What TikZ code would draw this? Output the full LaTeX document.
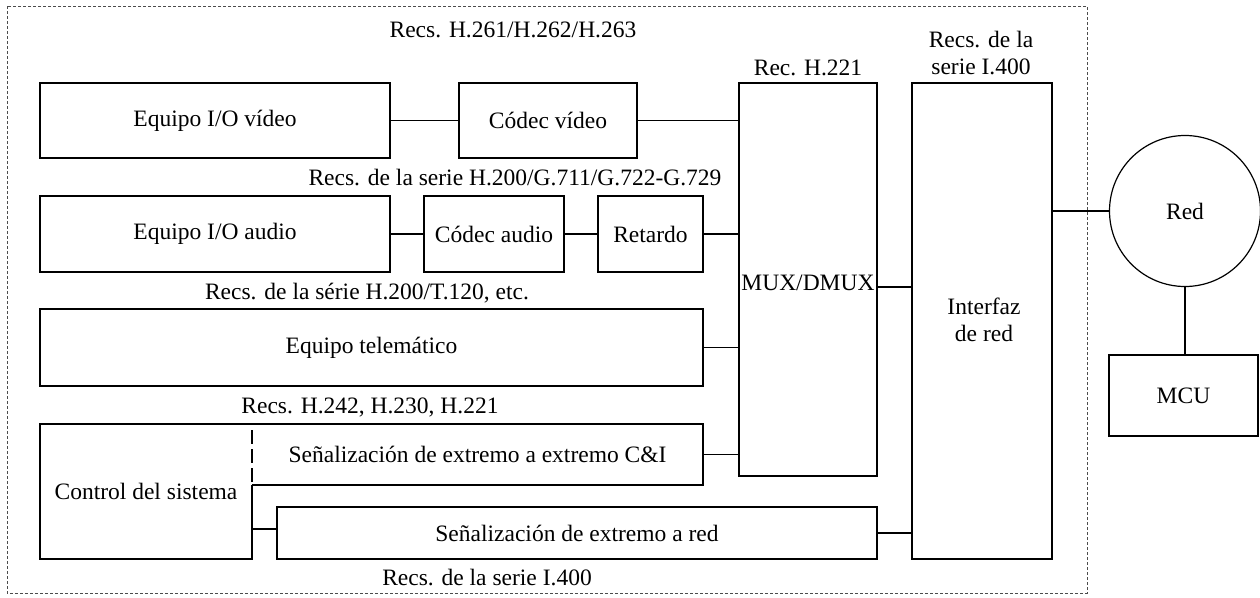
\documentclass[tikz,border=0pt]{standalone}
\usepackage{fontspec}
\setmainfont{Liberation Serif}
\begin{document}
\begin{tikzpicture}[x=1pt,y=-1pt,
  every node/.style={font=\fontsize{23.5}{27}\selectfont, inner sep=0pt, outer sep=0pt},
  box/.style={draw, line width=1.2pt, rectangle},
  conn/.style={line width=1.2pt},
  lbl/.style={align=center}]
\useasboundingbox (0,0) rectangle (1260,597);
% outer dashed frame
\draw[line width=1pt, black!70, dash pattern=on 3pt off 2pt] (7,6) rectangle (1087,593);

% boxes
\node[box, minimum width=350pt, minimum height=75pt] (vid) at (215,120.5) {Equipo I/O vídeo};
\node[box, minimum width=178pt, minimum height=75pt] (cvid) at (548,120.5) {Códec vídeo};
\node[box, minimum width=350pt, minimum height=76pt] (aud) at (215,234) {Equipo I/O audio};
\node[box, minimum width=140pt, minimum height=76pt] (caud) at (494,234) {Códec audio};
\node[box, minimum width=105pt, minimum height=76pt] (ret) at (650.5,234) {Retardo};
\node[box, minimum width=663pt, minimum height=77pt] (tel) at (371.5,347.5) {Equipo telemático};
\node[box, minimum width=138pt, minimum height=393pt] (mux) at (808,279.5) {};
\node at (808,283) {MUX/DMUX};
\node[box, minimum width=140pt, minimum height=476pt] (ifz) at (982,321) {};
\node[lbl] at (984,320) {Interfaz\\de red};
\node[box, circle, minimum size=151pt] (red) at (1185,211) {Red};
\node[box, minimum width=149pt, minimum height=81pt] (mcu) at (1183.5,395.5) {MCU};
\node[box, minimum width=600pt, minimum height=52pt] (endred) at (577,533) {Señalización de extremo a red};

% C&I box (left side dashed) and control del sistema
\node[minimum width=451pt, minimum height=61pt] (ci) at (477.5,454.5) {Señalización de extremo a extremo C\&I};
\node[minimum width=212pt, minimum height=135pt] (ctrl) at (146,491.5) {Control del sistema};
\coordinate (cc) at (252,485);
\draw[line width=1.2pt] (ci.south west) -- (ci.south east) -- (ci.north east) -- (ctrl.north west) -- (ctrl.south west) -- (ctrl.south east) -- (cc);
\draw[line width=1.2pt, dash pattern=on 14pt off 5pt, dash phase=-6pt] (ci.north west) -- (ci.south west);

% labels
\node at (513,30) {Recs. H.261/H.262/H.263};
\node at (808,68) {Rec. H.221};
\node[lbl] at (981,53) {Recs. de la\\serie I.400};
\node at (515,178) {Recs. de la serie H.200/G.711/G.722-G.729};
\node at (367,293) {Recs. de la série H.200/T.120, etc.};
\node at (370,407) {Recs. H.242, H.230, H.221};
\node at (487,578) {Recs. de la serie I.400};

% connectors
\draw[conn] (vid.east) -- (cvid.west);
\draw[conn] (cvid.east) -- (cvid.east -| mux.west);
\draw[conn] (aud.east) -- (caud.west);
\draw[conn] (caud.east) -- (ret.west);
\draw[conn] (ret.east) -- (ret.east -| mux.west);
\draw[conn] (tel.east) -- (tel.east -| mux.west);
\draw[conn] (ci.east) -- (ci.east -| mux.west);
\draw[conn] (mux.east |- 0,287) -- (ifz.west |- 0,287);
\draw[conn] (endred.east) -- (endred.east -| ifz.west);
\draw[conn] (ifz.east |- red.west) -- (red.west);
\draw[conn] (red.south) -- (red.south |- mcu.north);
\draw[conn] (ctrl.east |- 0,529) -- (endred.west |- 0,529);
\end{tikzpicture}
\end{document}
